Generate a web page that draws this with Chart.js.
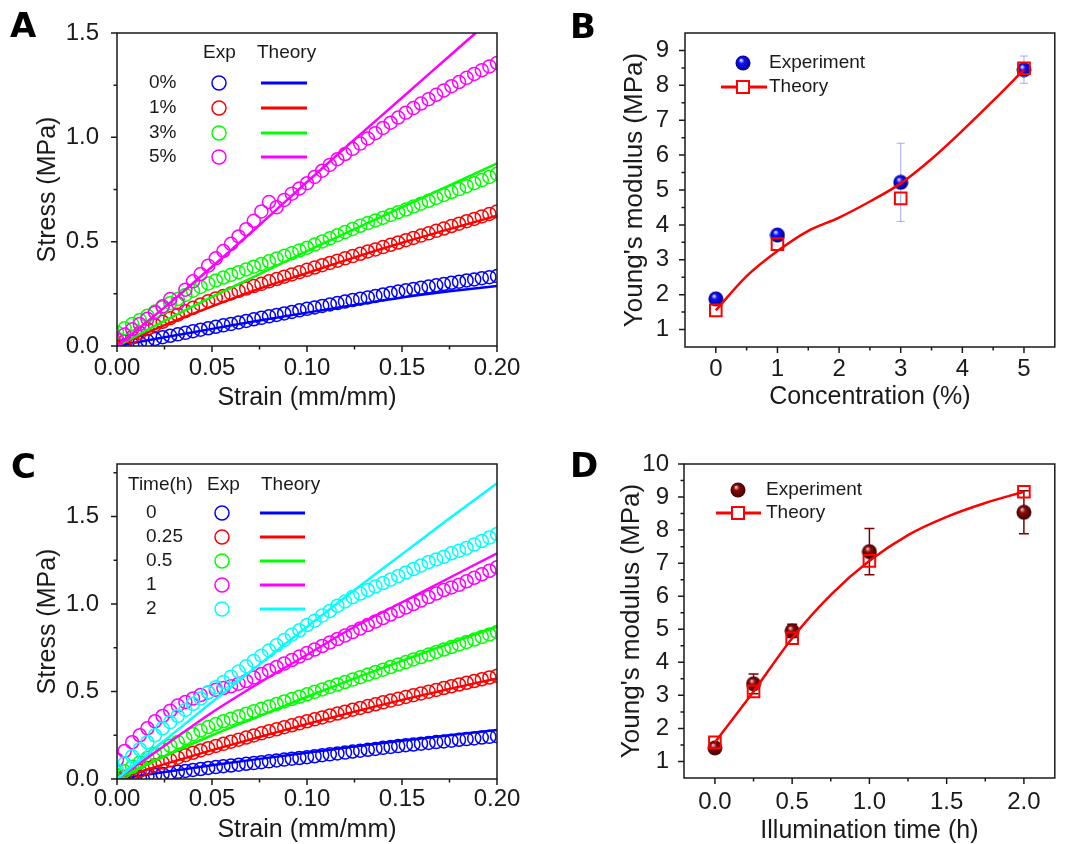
<!DOCTYPE html>
<html>
<head>
<meta charset="utf-8">
<script src="https://cdn.jsdelivr.net/npm/chart.js@4/dist/chart.umd.min.js"></script>
<style>
  html, body { margin: 0; background: #fff; }
  #fig { position: relative; width: 1065px; height: 844px; overflow: hidden; }
  #fig canvas { position: absolute; }
  .tag { position: absolute; font: bold 34px 'DejaVu Sans', sans-serif; line-height: 1; color: #000; }
</style>
</head>
<body>
<div id="fig">
  <canvas id="chart-a" width="530" height="420" style="left:0;top:0"></canvas>
  <canvas id="chart-b" width="535" height="420" style="left:530px;top:0"></canvas>
  <canvas id="chart-c" width="530" height="424" style="left:0;top:420px"></canvas>
  <canvas id="chart-d" width="535" height="424" style="left:530px;top:420px"></canvas>
  <div class="tag" style="left:10px;top:8px">A</div>
  <div class="tag" style="left:570px;top:9px">B</div>
  <div class="tag" style="left:11px;top:449px">C</div>
  <div class="tag" style="left:570px;top:448px">D</div>
</div>
<script>
// ---- stress-strain curves (A: concentration, C: illumination time) ----
const STRAIN = [
  0, 0.004, 0.008, 0.012, 0.016, 0.02, 0.024, 0.028, 0.032, 0.036,
  0.04, 0.044, 0.048, 0.052, 0.056, 0.06, 0.064, 0.068, 0.072, 0.076,
  0.08, 0.084, 0.088, 0.092, 0.096, 0.1, 0.104, 0.108, 0.112, 0.116,
  0.12, 0.124, 0.128, 0.132, 0.136, 0.14, 0.144, 0.148, 0.152, 0.156,
  0.16, 0.164, 0.168, 0.172, 0.176, 0.18, 0.184, 0.188, 0.192, 0.196,
  0.2]
const FIT_STRAIN = [0, 0.025, 0.05, 0.075, 0.1, 0.125, 0.15, 0.175, 0.2]

const A_LABELS = ['0%', '1%', '3%', '5%']
const A_EXP_0 = [
  0.000, 0.003, 0.008, 0.016, 0.025, 0.034, 0.042, 0.049, 0.056, 0.063,
  0.071, 0.078, 0.085, 0.092, 0.099, 0.106, 0.113, 0.120, 0.128, 0.135,
  0.142, 0.149, 0.156, 0.163, 0.171, 0.178, 0.185, 0.192, 0.199, 0.206,
  0.213, 0.220, 0.227, 0.233, 0.240, 0.247, 0.254, 0.261, 0.267, 0.273,
  0.279, 0.285, 0.291, 0.297, 0.303, 0.308, 0.314, 0.319, 0.325, 0.330,
  0.335]
const A_EXP_1 = [
  0.000, 0.022, 0.043, 0.063, 0.082, 0.100, 0.116, 0.133, 0.150, 0.167,
  0.183, 0.199, 0.215, 0.228, 0.240, 0.252, 0.264, 0.275, 0.287, 0.298,
  0.310, 0.321, 0.332, 0.343, 0.354, 0.365, 0.376, 0.387, 0.398, 0.409,
  0.420, 0.431, 0.442, 0.453, 0.463, 0.474, 0.485, 0.496, 0.507, 0.518,
  0.529, 0.540, 0.552, 0.563, 0.575, 0.586, 0.598, 0.609, 0.621, 0.633,
  0.645]
const A_EXP_3 = [
  0.065, 0.085, 0.105, 0.125, 0.145, 0.165, 0.185, 0.205, 0.225, 0.245,
  0.265, 0.283, 0.300, 0.314, 0.328, 0.341, 0.354, 0.367, 0.380, 0.393,
  0.406, 0.419, 0.432, 0.445, 0.458, 0.471, 0.486, 0.501, 0.516, 0.531,
  0.546, 0.561, 0.576, 0.589, 0.602, 0.615, 0.628, 0.641, 0.654, 0.668,
  0.682, 0.696, 0.710, 0.724, 0.738, 0.752, 0.766, 0.780, 0.795, 0.810,
  0.825]
const A_EXP_5 = [
  0.030, 0.055, 0.080, 0.105, 0.130, 0.160, 0.190, 0.225, 0.205, 0.270,
  0.310, 0.345, 0.385, 0.420, 0.455, 0.490, 0.525, 0.560, 0.600, 0.645,
  0.690, 0.665, 0.700, 0.730, 0.755, 0.780, 0.810, 0.840, 0.868, 0.895,
  0.920, 0.945, 0.970, 0.995, 1.020, 1.045, 1.070, 1.095, 1.118, 1.140,
  1.162, 1.183, 1.204, 1.225, 1.245, 1.265, 1.285, 1.304, 1.322, 1.340,
  1.356]
const A_FIT_0 = [0, 0.042, 0.082, 0.122, 0.160, 0.196, 0.232, 0.262, 0.288]
const A_FIT_1 = [0, 0.100, 0.190, 0.275, 0.350, 0.425, 0.495, 0.560, 0.625]
const A_FIT_3 = [0, 0.120, 0.235, 0.345, 0.455, 0.560, 0.665, 0.770, 0.875]
const A_FIT_5 = [0, 0.185, 0.380, 0.580, 0.786, 0.990, 1.190, 1.390, 1.590]

const C_LABELS = ['0', '0.25', '0.5', '1', '2']
const C_EXP_0 = [
  0.000, 0.002, 0.006, 0.011, 0.017, 0.023, 0.029, 0.035, 0.041, 0.046,
  0.052, 0.057, 0.063, 0.068, 0.073, 0.077, 0.082, 0.087, 0.091, 0.096,
  0.101, 0.106, 0.111, 0.116, 0.120, 0.125, 0.130, 0.136, 0.141, 0.146,
  0.151, 0.157, 0.162, 0.167, 0.172, 0.178, 0.183, 0.188, 0.193, 0.197,
  0.202, 0.206, 0.211, 0.215, 0.219, 0.224, 0.228, 0.232, 0.237, 0.241,
  0.245]
const C_EXP_025 = [
  0.000, 0.015, 0.031, 0.047, 0.063, 0.079, 0.094, 0.108, 0.122, 0.136,
  0.150, 0.163, 0.176, 0.189, 0.201, 0.213, 0.225, 0.237, 0.249, 0.261,
  0.273, 0.284, 0.296, 0.307, 0.318, 0.330, 0.341, 0.352, 0.363, 0.374,
  0.385, 0.396, 0.406, 0.417, 0.427, 0.438, 0.448, 0.458, 0.469, 0.479,
  0.489, 0.499, 0.509, 0.520, 0.530, 0.540, 0.550, 0.560, 0.570, 0.580,
  0.590]
const C_EXP_05 = [
  0.020, 0.045, 0.070, 0.095, 0.120, 0.145, 0.168, 0.190, 0.212, 0.234,
  0.256, 0.277, 0.297, 0.314, 0.330, 0.345, 0.359, 0.373, 0.387, 0.401,
  0.415, 0.429, 0.443, 0.457, 0.470, 0.484, 0.498, 0.512, 0.526, 0.540,
  0.554, 0.568, 0.582, 0.597, 0.611, 0.625, 0.640, 0.654, 0.668, 0.683,
  0.697, 0.711, 0.726, 0.740, 0.754, 0.769, 0.783, 0.797, 0.812, 0.826,
  0.840]
const C_EXP_1 = [
  0.110, 0.160, 0.210, 0.250, 0.290, 0.330, 0.360, 0.390, 0.420, 0.440,
  0.460, 0.480, 0.495, 0.510, 0.520, 0.530, 0.545, 0.560, 0.580, 0.600,
  0.620, 0.640, 0.660, 0.680, 0.700, 0.720, 0.740, 0.760, 0.780, 0.800,
  0.820, 0.840, 0.860, 0.880, 0.900, 0.920, 0.940, 0.960, 0.980, 1.000,
  1.020, 1.040, 1.060, 1.080, 1.095, 1.110, 1.130, 1.150, 1.170, 1.190,
  1.210]
const C_EXP_2 = [
  0.050, 0.090, 0.130, 0.170, 0.210, 0.250, 0.290, 0.325, 0.360, 0.395,
  0.430, 0.460, 0.495, 0.525, 0.555, 0.585, 0.615, 0.645, 0.675, 0.705,
  0.735, 0.765, 0.795, 0.825, 0.850, 0.880, 0.905, 0.935, 0.960, 0.990,
  1.015, 1.040, 1.060, 1.080, 1.100, 1.120, 1.140, 1.160, 1.180, 1.200,
  1.220, 1.240, 1.255, 1.270, 1.290, 1.305, 1.320, 1.340, 1.360, 1.380,
  1.400]
const C_FIT_0 = [0, 0.040, 0.078, 0.115, 0.150, 0.185, 0.218, 0.250, 0.280]
const C_FIT_025 = [0, 0.085, 0.165, 0.240, 0.315, 0.385, 0.452, 0.515, 0.575]
const C_FIT_05 = [0, 0.130, 0.250, 0.360, 0.470, 0.575, 0.675, 0.775, 0.870]
const C_FIT_1 = [0, 0.190, 0.380, 0.550, 0.710, 0.870, 1.010, 1.150, 1.290]
const C_FIT_2 = [0, 0.220, 0.440, 0.655, 0.870, 1.080, 1.285, 1.490, 1.690]

// ---- modulus vs concentration (B) ----
const CONC = [0, 1, 3, 5]
const B_EXP = [1.88, 3.71, 5.22, 8.45]
const B_EXP_ERR = [0.10, 0.12, 1.12, 0.39]
const B_THEORY = [1.55, 3.45, 4.76, 8.49]
const B_CURVE_X = [0, 0.5, 1, 1.5, 2, 2.5, 3, 3.5, 4, 4.5, 5]
const B_CURVE_Y = [1.55, 2.53, 3.25, 3.83, 4.21, 4.67, 5.19, 5.89, 6.70, 7.56, 8.45]

// ---- modulus vs illumination time (D) ----
const TIME = [0, 0.25, 0.5, 1, 2]
const D_EXP = [1.41, 3.35, 4.95, 7.35, 8.54]
const D_EXP_ERR = [0.10, 0.30, 0.20, 0.70, 0.65]
const D_THEORY = [1.58, 3.12, 4.73, 7.07, 9.16]
const D_CURVE_X = [0, 0.25, 0.5, 0.75, 1, 1.25, 1.5, 1.75, 2]
const D_CURVE_Y = [1.58, 3.12, 4.73, 6.04, 7.07, 7.85, 8.40, 8.82, 9.16]

// ---- axis ticks ----
const STRAIN_TICKS = [0, 0.05, 0.1, 0.15, 0.2]
const STRAIN_MINOR = [0.025, 0.075, 0.125, 0.175]
const A_Y_TICKS = [0, 0.5, 1, 1.5]
const A_Y_MINOR = [0.25, 0.75, 1.25]
const C_Y_TICKS = [0, 0.5, 1, 1.5]
const C_Y_MINOR = [0.25, 0.75, 1.25, 1.75]
const B_X_TICKS = [0, 1, 2, 3, 4, 5]
const B_X_MINOR = [0.5, 1.5, 2.5, 3.5, 4.5]
const B_Y_TICKS = [1, 2, 3, 4, 5, 6, 7, 8, 9]
const B_Y_MINOR = [1.5, 2.5, 3.5, 4.5, 5.5, 6.5, 7.5, 8.5]
const D_X_TICKS = [0, 0.5, 1, 1.5, 2]
const D_X_MINOR = [0.25, 0.75, 1.25, 1.75]
const D_Y_TICKS = [1, 2, 3, 4, 5, 6, 7, 8, 9, 10]
const D_Y_MINOR = [1.5, 2.5, 3.5, 4.5, 5.5, 6.5, 7.5, 8.5, 9.5]

const BLUE = '#0000ff', RED = '#ff0000', GREEN = '#00ff00', MAGENTA = '#ff00ff', CYAN = '#00ffff'
const INK = '#1a1a1a'
const FONT = "'Liberation Sans', Arial, sans-serif"

Chart.defaults.font.family = FONT
Chart.defaults.color = INK

const pts = (xs, ys) => xs.map((x, i) => ({ x, y: ys[i] }))

// shaded ball used for the experimental moduli
function sphere(glint, body, edge) {
  const c = document.createElement('canvas')
  c.width = c.height = 16
  const g = c.getContext('2d')
  const grad = g.createRadialGradient(6, 5, 0.5, 8, 8, 8)
  grad.addColorStop(0, glint)
  grad.addColorStop(0.3, body)
  grad.addColorStop(1, edge)
  g.fillStyle = grad
  g.beginPath(); g.arc(8, 8, 7.5, 0, Math.PI * 2); g.fill()
  return c
}
const BLUE_BALL = sphere('#d8dcff', '#1010ff', '#000080')
const RED_BALL = sphere('#f0b8b8', '#8a0c0c', '#3c0000')

// frame plus outward major/minor tick marks
const frameTicks = {
  id: 'frameTicks',
  afterDatasetsDraw(chart, args, o) {
    const { ctx, chartArea: a, scales: { x, y } } = chart
    ctx.save()
    ctx.strokeStyle = INK
    ctx.lineWidth = 1.5
    ctx.strokeRect(a.left, a.top, a.right - a.left, a.bottom - a.top)
    ctx.beginPath()
    const xm = (vals, len) => vals.forEach(v => {
      const px = x.getPixelForValue(v)
      ctx.moveTo(px, a.bottom); ctx.lineTo(px, a.bottom + len)
    })
    const ym = (vals, len) => vals.forEach(v => {
      const py = y.getPixelForValue(v)
      ctx.moveTo(a.left, py); ctx.lineTo(a.left - len, py)
    })
    xm(o.xMajor, 6); xm(o.xMinor, 3.5); ym(o.yMajor, 6); ym(o.yMinor, 3.5)
    ctx.stroke()
    ctx.restore()
  }
}

const errorBars = {
  id: 'errorBars',
  beforeDatasetsDraw(chart, args, o) {
    if (!o.err) return
    const { ctx, scales: { x, y } } = chart
    const data = chart.data.datasets[o.dataset].data
    ctx.save()
    ctx.strokeStyle = o.color
    ctx.lineWidth = o.width
    ctx.beginPath()
    data.forEach((p, i) => {
      const px = x.getPixelForValue(p.x)
      const hi = y.getPixelForValue(p.y + o.err[i])
      const lo = y.getPixelForValue(p.y - o.err[i])
      ctx.moveTo(px, hi); ctx.lineTo(px, lo)
      ctx.moveTo(px - o.cap, hi); ctx.lineTo(px + o.cap, hi)
      ctx.moveTo(px - o.cap, lo); ctx.lineTo(px + o.cap, lo)
    })
    ctx.stroke()
    ctx.restore()
  }
}

function text(ctx, s, x, y, size = 19) {
  ctx.font = `${size}px ${FONT}`
  ctx.fillStyle = INK
  ctx.textAlign = 'left'
  ctx.textBaseline = 'middle'
  ctx.fillText(s, x, y)
}

// "Exp / Theory" table legend for the stress-strain panels
function tableLegend(spec) {
  return {
    id: 'tableLegend',
    afterDraw(chart) {
      const ctx = chart.ctx
      ctx.save()
      spec.head.forEach(([s, x]) => text(ctx, s, x, spec.headY))
      spec.labels.forEach((s, i) => {
        const y = spec.rowY[i], col = spec.colors[i]
        text(ctx, s, spec.labelX, y)
        ctx.strokeStyle = col
        ctx.lineWidth = 1.5
        ctx.beginPath(); ctx.arc(spec.markX, y, 7, 0, Math.PI * 2); ctx.stroke()
        ctx.lineWidth = 3
        ctx.beginPath(); ctx.moveTo(spec.line[0], y); ctx.lineTo(spec.line[1], y); ctx.stroke()
      })
      ctx.restore()
    }
  }
}

// Experiment / Theory key for the modulus panels
function keyLegend(spec) {
  return {
    id: 'keyLegend',
    afterDraw(chart) {
      const ctx = chart.ctx
      ctx.save()
      ctx.drawImage(spec.ball, spec.markX - 8, spec.y0 - 8)
      text(ctx, 'Experiment', spec.textX, spec.y0)
      ctx.strokeStyle = RED
      ctx.lineWidth = 3
      ctx.beginPath(); ctx.moveTo(spec.line[0], spec.y1); ctx.lineTo(spec.line[1], spec.y1); ctx.stroke()
      ctx.fillStyle = '#fff'
      ctx.lineWidth = 2
      ctx.fillRect(spec.markX - 6, spec.y1 - 6, 12, 12)
      ctx.strokeRect(spec.markX - 6, spec.y1 - 6, 12, 12)
      text(ctx, 'Theory', spec.textX, spec.y1)
      ctx.restore()
    }
  }
}

function axis(o) {
  const horiz = o.side === 'x'
  return {
    type: 'linear', min: o.min, max: o.max,
    grid: { display: false },
    border: { display: false },
    afterBuildTicks: s => { s.ticks = o.ticks.map(value => ({ value })) },
    afterFit: s => { if (horiz) s.height = o.size; else s.width = o.size },
    ticks: { color: INK, padding: o.pad, font: { size: 24 }, maxRotation: 0, autoSkip: false,
             callback: v => o.fmt(v) },
    title: { display: true, text: o.title, color: INK, font: { size: o.titleSize || 25, lineHeight: 1 },
             padding: horiz ? { top: 0, bottom: o.titlePad } : { top: o.titlePad, bottom: 0 } },
  }
}

function baseOptions(padding, scales, plugins) {
  return {
    responsive: false, animation: false, devicePixelRatio: 1, events: [],
    layout: { padding },
    scales,
    plugins: { legend: { display: false }, tooltip: { enabled: false }, ...plugins },
  }
}

const expSet = (ys, color) => ({
  data: pts(STRAIN, ys), showLine: false, pointStyle: 'circle', pointRadius: 6.5,
  pointBorderWidth: 1.5, borderColor: color, backgroundColor: 'rgba(0,0,0,0)',
})
const fitSet = (ys, color) => ({
  data: pts(FIT_STRAIN, ys), showLine: true, pointRadius: 0, borderColor: color,
  borderWidth: 2.5, cubicInterpolationMode: 'monotone', fill: false,
})
// later entries draw on top
const stack = sets => sets.map((d, i) => ({ ...d, order: -i }))

function strainChart(id, groups, yMax, yTicks, yMinor, box, legend) {
  const datasets = []
  groups.forEach(([exp, fit, color]) => { datasets.push(expSet(exp, color)); datasets.push(fitSet(fit, color)) })
  new Chart(document.getElementById(id), {
    type: 'scatter',
    data: { datasets: stack(datasets) },
    options: baseOptions(box.padding, {
      x: axis({ side: 'x', min: 0, max: 0.2, ticks: STRAIN_TICKS, fmt: v => v.toFixed(2), pad: box.xPad,
                size: box.xSize, title: 'Strain (mm/mm)', titlePad: box.xTitlePad }),
      y: axis({ side: 'y', min: 0, max: yMax, ticks: yTicks, fmt: v => v.toFixed(1), pad: 10,
                size: 117, title: 'Stress (MPa)', titlePad: 35.5 }),
    }, { frameTicks: { xMajor: STRAIN_TICKS, xMinor: STRAIN_MINOR, yMajor: yTicks, yMinor } }),
    plugins: [frameTicks, tableLegend(legend)],
  })
}

strainChart('chart-a', [
  [A_EXP_0, A_FIT_0, BLUE], [A_EXP_1, A_FIT_1, RED], [A_EXP_3, A_FIT_3, GREEN], [A_EXP_5, A_FIT_5, MAGENTA],
], 1.5, A_Y_TICKS, A_Y_MINOR,
  { padding: { top: 33, right: 33, left: 0, bottom: 0 }, xSize: 74, xPad: 0, xTitlePad: 9.5 },
  { head: [['Exp', 203], ['Theory', 257]], headY: 53, labels: A_LABELS, rowY: [83, 108, 133, 157],
    colors: [BLUE, RED, GREEN, MAGENTA], labelX: 149, markX: 219, line: [261, 307] })

strainChart('chart-c', [
  [C_EXP_0, C_FIT_0, BLUE], [C_EXP_025, C_FIT_025, RED], [C_EXP_05, C_FIT_05, GREEN],
  [C_EXP_1, C_FIT_1, MAGENTA], [C_EXP_2, C_FIT_2, CYAN],
], 1.8, C_Y_TICKS, C_Y_MINOR,
  { padding: { top: 44, right: 33, left: 0, bottom: 0 }, xSize: 65, xPad: -2, xTitlePad: 1.5 },
  { head: [['Time(h)', 128], ['Exp', 207], ['Theory', 261]], headY: 65, labels: C_LABELS,
    rowY: [93, 117, 141, 165, 189], colors: [BLUE, RED, GREEN, MAGENTA, CYAN],
    labelX: 146, markX: 222, line: [260, 305] })

function modulusChart(id, o) {
  new Chart(document.getElementById(id), {
    type: 'scatter',
    data: { datasets: stack([
      { data: pts(o.xs, o.exp), showLine: false, pointStyle: o.ball, pointRadius: 8 },
      { data: pts(o.curveX, o.curveY), showLine: true, pointRadius: 0, borderColor: RED, borderWidth: 2.5,
        cubicInterpolationMode: 'monotone', fill: false },
      { data: pts(o.xs, o.theory), showLine: false, pointStyle: 'rect', pointRadius: 8.2,
        pointBorderWidth: 2, borderColor: RED, backgroundColor: 'rgba(0,0,0,0)' },
    ]) },
    options: baseOptions(o.padding, {
      x: axis({ side: 'x', min: o.xMin, max: o.xMax, ticks: o.xTicks, fmt: o.xFmt, pad: o.xPad,
                size: o.xSize, title: o.xTitle, titlePad: o.xTitlePad }),
      y: axis({ side: 'y', min: o.yMin, max: o.yMax, ticks: o.yTicks, fmt: v => String(v), pad: o.yPad,
                size: o.ySize, title: "Young's modulus (MPa)", titlePad: o.yTitlePad, titleSize: 26 }),
    }, {
      frameTicks: { xMajor: o.xTicks, xMinor: o.xMinor, yMajor: o.yTicks, yMinor: o.yMinor },
      errorBars: { dataset: 0, err: o.err, color: o.errColor, width: o.errWidth, cap: o.cap },
    }),
    plugins: [errorBars, frameTicks, keyLegend(o.legend)],
  })
}

modulusChart('chart-b', {
  xs: CONC, exp: B_EXP, err: B_EXP_ERR, theory: B_THEORY, curveX: B_CURVE_X, curveY: B_CURVE_Y,
  ball: BLUE_BALL, errColor: 'rgba(110,110,255,0.6)', errWidth: 1, cap: 4,
  xMin: -0.5, xMax: 5.5, xTicks: B_X_TICKS, xMinor: B_X_MINOR, xFmt: v => String(v),
  yMin: 0.5, yMax: 9.5, yTicks: B_Y_TICKS, yMinor: B_Y_MINOR,
  padding: { top: 33, right: 3, left: 0, bottom: 0 }, xSize: 73, ySize: 155, yPad: 8, xPad: 0,
  xTitle: 'Concentration (%)', xTitlePad: 10.5, yTitlePad: 92,
  legend: { ball: BLUE_BALL, markX: 213, textX: 239, y0: 63, y1: 87, line: [191, 237] },
})

modulusChart('chart-d', {
  xs: TIME, exp: D_EXP, err: D_EXP_ERR, theory: D_THEORY, curveX: D_CURVE_X, curveY: D_CURVE_Y,
  ball: RED_BALL, errColor: '#7a0000', errWidth: 1.5, cap: 5,
  xMin: -0.2, xMax: 2.2, xTicks: D_X_TICKS, xMinor: D_X_MINOR, xFmt: v => v.toFixed(1),
  yMin: 0.5, yMax: 10, yTicks: D_Y_TICKS, yMinor: D_Y_MINOR,
  padding: { top: 44, right: 4, left: 0, bottom: 0 }, xSize: 66, ySize: 154, yPad: 7, xPad: 2,
  xTitle: 'Illumination time (h)', xTitlePad: 0, yTitlePad: 89,
  legend: { ball: RED_BALL, markX: 208, textX: 236, y0: 70, y1: 93, line: [186, 231] },
})
</script>
</body>
</html>
